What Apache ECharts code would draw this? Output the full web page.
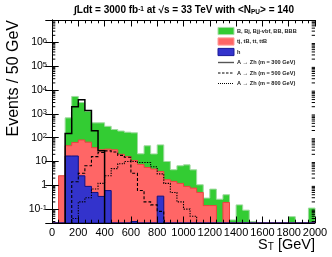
<!DOCTYPE html>
<html><head><meta charset="utf-8">
<script src="https://cdn.jsdelivr.net/npm/echarts@6/dist/echarts.min.js"></script>
<style>html,body{margin:0;padding:0;background:#fff}#c{width:332px;height:257px}</style>
</head><body><div id="c"></div>
<script>
// ---- data (50 GeV bins from 0 to 2000 GeV) ----
const binWidth = 50;
const xMin = 0, xMax = 2000, xStep = 200;
const yMin = 0.026, yMax = 8.8e6;
// B, Bj, Bjj-vbf, BB, BBB (green)
const bkgB = [0, 0, 634, 5337, 2920, 1235, 382, 389, 267, 189, 170, 154, 149, 13.5, 40, 16, 46, 8.3, 3.05, 5.4, 6.3, 3.7, 0.55, 0.15, 0.55, 0.26, 0.21, 0.035, 0.15, 0.09, 0.03, 0, 0, 0, 0, 0, 0.048, 0, 0, 0.11];
// tj, tB, tt, ttB (red)
const bkgTop = [0, 2.5, 29, 46, 77.5, 64, 37.5, 30.7, 32.4, 31, 20, 16, 11, 7.5, 5.6, 4.8, 3.45, 1.7, 1.45, 1.2, 0.9, 0.76, 0.5, 0.14, 0.14, 0, 0.19, 0, 0, 0, 0, 0, 0, 0, 0, 0, 0, 0, 0, 0];
// h (blue)
const bkgH = [0, 0, 17, 17, 2.5, 0.9, 0.5, 0.34, 0.6, 0, 0, 0, 0.03, 0, 0, 0, 0.35, 0, 0, 0, 0, 0, 0, 0, 0, 0, 0, 0, 0, 0, 0, 0, 0, 0, 0, 0, 0, 0, 0, 0];
// signals A -> Zh
const sig300 = [0, 0, 150, 2000, 3900, 1400, 195, 28, 0, 0, 0, 0, 0, 0, 0, 0, 0, 0, 0, 0, 0, 0, 0, 0, 0, 0, 0, 0, 0, 0, 0, 0, 0, 0, 0, 0, 0, 0, 0, 0];
const sig500 = [0, 0, 0, 1.4, 3.2, 6.6, 16, 24, 28, 25, 18, 15, 3.2, 0.6, 0.2, 0.15, 0.08, 0, 0, 0, 0, 0, 0, 0, 0, 0, 0, 0, 0, 0, 0, 0, 0, 0, 0, 0, 0, 0, 0, 0];
const sig800 = [0, 0, 0, 0.04, 0.2, 0.3, 0.7, 1.2, 2.5, 5, 8, 10, 10, 9, 9, 6, 3, 1.2, 0.5, 0.2, 0.1, 0.05, 0, 0, 0, 0, 0, 0, 0, 0, 0, 0, 0, 0, 0, 0, 0, 0, 0, 0];
const legendLabels = ['B, Bj, Bjj-vbf, BB, BBB', 'tj, tB, tt, ttB', 'h',
  'A \u2192 Zh (m = 300 GeV)', 'A \u2192 Zh (m = 500 GeV)', 'A \u2192 Zh (m = 800 GeV)'];
const titleText = '\u222bLdt = 3000 fb{sup|-1} at \u221as = 33 TeV with <N{sub|PU}> = 140';
const yTitle = 'Events / 50 GeV';
const xTitle = 'S{sub|T} [GeV]';

// ---- stacking ----
const topH = bkgH.slice();
const topTop = bkgTop.map((v, i) => v + topH[i]);
const topAll = bkgB.map((v, i) => v + topTop[i]);

const FONT = '"Liberation Sans", Arial, Helvetica, sans-serif';
const colors = { green: '#33cc33', red: '#ff6666', blue: '#3333cc' };

function fillSeries(name, tops, fill, stroke, z) {
  return {
    type: 'custom', name, z, silent: true, animation: false,
    data: [[xMin, yMin]],
    renderItem: (params, api) => {
      const pts = [api.coord([xMin, yMin])];
      tops.forEach((v, i) => {
        const y = Math.max(v, yMin);
        pts.push(api.coord([i * binWidth, y]));
        pts.push(api.coord([(i + 1) * binWidth, y]));
      });
      pts.push(api.coord([tops.length * binWidth, yMin]));
      return { type: 'polygon', shape: { points: pts }, style: { fill, stroke, lineWidth: 1 } };
    }
  };
}
function lineSeries(name, vals, dash, width, z) {
  return {
    type: 'custom', name, z, silent: true, animation: false,
    data: [[xMin, yMin]],
    renderItem: (params, api) => {
      let a = vals.findIndex(v => v > 0), b = vals.length - 1;
      while (b > 0 && !(vals[b] > 0)) b--;
      const pts = [api.coord([a * binWidth, yMin])];
      for (let i = a; i <= b; i++) {
        const y = Math.max(vals[i], yMin);
        pts.push(api.coord([i * binWidth, y]));
        pts.push(api.coord([(i + 1) * binWidth, y]));
      }
      pts.push(api.coord([(b + 1) * binWidth, yMin]));
      return { type: 'polyline', shape: { points: pts }, style: { stroke: '#000', fill: null, lineWidth: width, lineDash: dash } };
    }
  };
}
const minorTicks = {
  type: 'custom', name: 'minorTicks', z: 20, silent: true, animation: false,
  data: [[xMin, yMin]],
  renderItem: (params, api) => {
    const ch = [];
    for (let e = -2; e <= 7; e++) for (let m = 2; m <= 9; m++) {
      const v = m * Math.pow(10, e);
      if (v < yMin || v > yMax) continue;
      const l = api.coord([xMin, v]), r = api.coord([xMax, v]);
      ch.push({ type: 'line', shape: { x1: l[0], y1: l[1], x2: l[0] + 3.3, y2: l[1] }, style: { stroke: '#000', lineWidth: 1 } });
      ch.push({ type: 'line', shape: { x1: r[0], y1: r[1], x2: r[0] - 3.3, y2: r[1] }, style: { stroke: '#000', lineWidth: 1 } });
    }
    return { type: 'group', children: ch };
  }
};

function yLabel(v) {
  const L = Math.log10(v), e = Math.round(L);
  if (Math.abs(L - e) > 0.01) return '';
  if (e === 1) return '10';
  if (e === 0) return '1';
  return '10{sup|' + e + '}';
}

const xAxisBase = {
  type: 'value', min: xMin, max: xMax, interval: xStep, z: 10,
  axisLine: { show: true, lineStyle: { color: '#000', width: 1 } },
  axisTick: { show: true, inside: true, length: 6.5, lineStyle: { color: '#000' } },
  minorTick: { show: true, splitNumber: 4, length: 3.3, lineStyle: { color: '#000' } },
  splitLine: { show: false }
};
const yAxisBase = {
  type: 'log', logBase: 10, min: yMin, max: yMax, z: 10,
  axisLine: { show: true, lineStyle: { color: '#000', width: 1 } },
  axisTick: { show: true, inside: true, length: 6.7, lineStyle: { color: '#000' } },
  splitLine: { show: false }
};

const lgX = 218, lgY0 = 31, lgDy = 10.5;
const legendGraphics = [];
const boxStyles = [
  { fill: colors.green, stroke: '#a8dca8' },
  { fill: colors.red, stroke: '#ff9999' },
  { fill: colors.blue, stroke: '#1a1a99' }
];
const dashes = [null, [2.5, 1.5], [1, 1]];
legendLabels.forEach((t, i) => {
  const y = lgY0 + i * lgDy;
  if (i < 3) {
    legendGraphics.push({ type: 'rect', shape: { x: lgX, y: y - 3.6, width: 16, height: 7.2 }, style: Object.assign({ lineWidth: 1 }, boxStyles[i]) });
  } else {
    legendGraphics.push({ type: 'line', shape: { x1: lgX, y1: y, x2: lgX + 16, y2: y }, style: { stroke: i === 3 ? '#555' : '#000', lineWidth: i === 3 ? 1.4 : 1, lineDash: dashes[i - 3] } });
  }
  legendGraphics.push({ type: 'text', x: lgX + 19, y: y, style: { text: t, font: 'bold 5.6px ' + FONT, fill: '#222', textVerticalAlign: 'middle', textAlign: 'left' } });
});

const option = {
  animation: false,
  backgroundColor: '#fff',
  grid: { left: 52, right: 17, top: 20, bottom: 34, containLabel: false },
  xAxis: [
    Object.assign({}, xAxisBase, {
      position: 'bottom',
      axisLabel: { show: true, margin: 4, fontSize: 11, color: '#000', fontFamily: FONT, interval: 0, hideOverlap: false,
        formatter: v => String(v) }
    }),
    Object.assign({}, xAxisBase, { position: 'top', axisLabel: { show: false } })
  ],
  yAxis: [
    Object.assign({}, yAxisBase, {
      position: 'left',
      axisLabel: {
        show: true, margin: 5, color: '#000', fontFamily: FONT, fontSize: 10.5,
        showMinLabel: false, showMaxLabel: false,
        formatter: yLabel,
        rich: { sup: { fontSize: 7.5, fontFamily: FONT, color: '#000', verticalAlign: 'top', lineHeight: 8 } }
      }
    }),
    Object.assign({}, yAxisBase, { position: 'right', axisLabel: { show: false } })
  ],
  series: [
    fillSeries('B, Bj, Bjj-vbf, BB, BBB', topAll, colors.green, '#9fd99f', 2),
    fillSeries('tj, tB, tt, ttB', topTop, colors.red, '#f04040', 3),
    fillSeries('h', topH, colors.blue, '#101080', 4),
    lineSeries('A \u2192 Zh (m = 800 GeV)', sig800, [1.3, 1.3], 1.1, 5),
    lineSeries('A \u2192 Zh (m = 500 GeV)', sig500, [3, 2], 1.1, 6),
    lineSeries('A \u2192 Zh (m = 300 GeV)', sig300, null, 1.5, 7),
    minorTicks
  ],
  graphic: [
    { type: 'text', x: 184, y: 10.5, z: 30,
      style: { text: titleText, font: 'bold 10px ' + FONT, fill: '#000', textAlign: 'center', textVerticalAlign: 'middle',
        rich: { sup: { font: 'bold 6.5px ' + FONT, verticalAlign: 'top', lineHeight: 7 }, sub: { font: 'bold 6.5px ' + FONT, verticalAlign: 'bottom', lineHeight: 7 } } } },
    { type: 'text', x: 13.5, y: 20, rotation: Math.PI / 2, z: 30,
      style: { text: yTitle, font: '16px ' + FONT, fill: '#000', textAlign: 'right', textVerticalAlign: 'middle' } },
    { type: 'text', x: 315, y: 245, z: 30,
      style: { text: xTitle, font: '14.5px ' + FONT, fill: '#000', textAlign: 'right', textVerticalAlign: 'middle',
        rich: { sub: { font: '10px ' + FONT, verticalAlign: 'bottom', lineHeight: 9 } } } },
    { type: 'group', z: 30, children: legendGraphics }
  ]
};
const chart = echarts.init(document.getElementById('c'), null, { renderer: 'canvas' });
chart.setOption(option);
</script>
</body></html>
